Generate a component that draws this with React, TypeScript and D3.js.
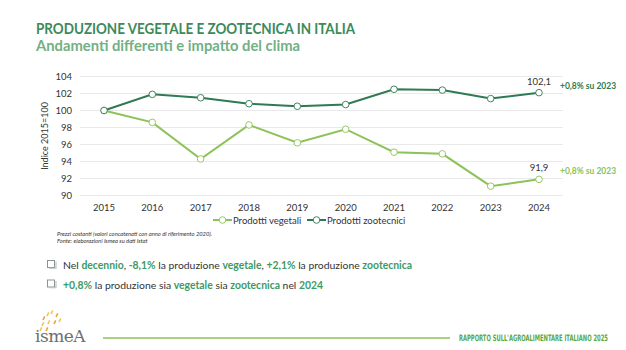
import { useEffect, useRef } from 'react';
import * as d3 from 'd3';

const years = ['2015', '2016', '2017', '2018', '2019', '2020', '2021', '2022', '2023', '2024'];
const vegetali = [100, 98.6, 94.3, 98.3, 96.2, 97.8, 95.1, 94.9, 91.1, 91.9];
const zootecnici = [100, 101.9, 101.5, 100.8, 100.5, 100.7, 102.5, 102.4, 101.4, 102.1];
const yTicks = [90, 92, 94, 96, 98, 100, 102, 104];

const DARK = '#2f7a52';
const LIGHT = '#8cc257';
const FONT = 'Lato, "Open Sans", sans-serif';

const App = () => {
    const svgRef = useRef<SVGSVGElement>(null);

    useEffect(() => {
        const svg = d3.select(svgRef.current);
        svg.selectAll('*').remove();

        const x = d3.scalePoint().domain(years).range([104, 539]);
        const y = d3.scaleLinear().domain([90, 104]).range([195.5, 76.5]);

        svg.append('rect').attr('width', 626).attr('height', 350).attr('fill', '#fff');

        // titles
        svg.append('text').attr('x', 36).attr('y', 34)
            .attr('font-family', FONT).attr('font-weight', 700).attr('font-size', 15)
            .attr('fill', '#3b8a5c').attr('textLength', 319).attr('lengthAdjust', 'spacingAndGlyphs')
            .text('PRODUZIONE VEGETALE E ZOOTECNICA IN ITALIA');
        svg.append('text').attr('x', 36).attr('y', 51)
            .attr('font-family', FONT).attr('font-weight', 700).attr('font-size', 15)
            .attr('fill', '#72b083').attr('textLength', 264).attr('lengthAdjust', 'spacingAndGlyphs')
            .text('Andamenti differenti e impatto del clima');

        // grid
        svg.append('g').selectAll('line').data(yTicks).enter().append('line')
            .attr('x1', 80).attr('x2', 563)
            .attr('y1', d => y(d)).attr('y2', d => y(d))
            .attr('stroke', '#e3e3e3').attr('stroke-width', 0.8);

        svg.append('g').selectAll('text').data(yTicks).enter().append('text')
            .attr('x', 72).attr('y', d => y(d) + 3.5).attr('text-anchor', 'end')
            .attr('font-family', FONT).attr('font-size', 9.5).attr('fill', '#333')
            .text(d => d);

        svg.append('g').selectAll('text').data(years).enter().append('text')
            .attr('x', d => x(d)!).attr('y', 211).attr('text-anchor', 'middle')
            .attr('font-family', FONT).attr('font-size', 9.5).attr('fill', '#333')
            .text(d => d);

        svg.append('text').attr('transform', 'translate(48,136) rotate(-90)')
            .attr('text-anchor', 'middle').attr('font-family', FONT).attr('font-size', 9)
            .attr('fill', '#333').text('Indice 2015=100');

        const line = d3.line<number>().x((d, i) => x(years[i])!).y(d => y(d));

        const series = [
            { values: vegetali, color: LIGHT },
            { values: zootecnici, color: DARK },
        ];
        series.forEach(s => {
            svg.append('path').datum(s.values).attr('d', line)
                .attr('fill', 'none').attr('stroke', s.color).attr('stroke-width', 2);
            svg.append('g').selectAll('circle').data(s.values).enter().append('circle')
                .attr('cx', (d, i) => x(years[i])!).attr('cy', d => y(d)).attr('r', 3.3)
                .attr('fill', '#fff').attr('stroke', s.color).attr('stroke-width', 0.9);
        });

        // end labels
        const last = years.length - 1;
        svg.append('text').attr('x', x(years[last])!).attr('y', y(zootecnici[last]) - 8)
            .attr('text-anchor', 'middle').attr('font-family', FONT).attr('font-size', 9.5)
            .attr('fill', '#333').text('102,1');
        svg.append('text').attr('x', x(years[last])!).attr('y', y(vegetali[last]) - 8)
            .attr('text-anchor', 'middle').attr('font-family', FONT).attr('font-size', 9.5)
            .attr('fill', '#333').text('91,9');
        svg.append('text').attr('x', 560).attr('y', 89)
            .attr('font-family', FONT).attr('font-weight', 700).attr('font-size', 8.5)
            .attr('fill', DARK).text('+0,8% su 2023');
        svg.append('text').attr('x', 560).attr('y', 174)
            .attr('font-family', FONT).attr('font-weight', 700).attr('font-size', 8.5)
            .attr('fill', LIGHT).text('+0,8% su 2023');

        // legend
        const legend = [
            { label: 'Prodotti vegetali', color: LIGHT, x: 213 },
            { label: 'Prodotti zootecnici', color: DARK, x: 307 },
        ];
        legend.forEach(l => {
            svg.append('line').attr('x1', l.x).attr('x2', l.x + 19).attr('y1', 220).attr('y2', 220)
                .attr('stroke', l.color).attr('stroke-width', 2);
            svg.append('circle').attr('cx', l.x + 9.5).attr('cy', 220).attr('r', 3.3)
                .attr('fill', '#fff').attr('stroke', l.color).attr('stroke-width', 0.9);
            svg.append('text').attr('x', l.x + 20).attr('y', 223.5)
                .attr('font-family', FONT).attr('font-size', 9.5).attr('fill', '#333').text(l.label);
        });

        // notes
        svg.append('text').attr('x', 57).attr('y', 236)
            .attr('font-family', FONT).attr('font-style', 'italic').attr('font-size', 5.8)
            .attr('fill', '#333').text('Prezzi costanti (valori concatenati con anno di riferimento 2020).');
        svg.append('text').attr('x', 57).attr('y', 243)
            .attr('font-family', FONT).attr('font-style', 'italic').attr('font-size', 5.8)
            .attr('fill', '#333').text('Fonte: elaborazioni Ismea su dati Istat');

        // bullets
        const G = '#3d9a62';
        const bullets = [
            [['Nel ', '#333'], ['decennio', G], [', ', '#333'], ['-8,1%', G], [' la produzione ', '#333'], ['vegetale', G], [', ', '#333'], ['+2,1%', G], [' la produzione ', '#333'], ['zootecnica', G]],
            [['+0,8%', G], [' la produzione sia ', '#333'], ['vegetale', G], [' sia ', '#333'], ['zootecnica', G], [' nel ', '#333'], ['2024', G]],
        ];
        bullets.forEach((parts, i) => {
            const by = 269 + i * 19.5;
            svg.append('rect').attr('x', 47.5).attr('y', by - 8.5).attr('width', 7).attr('height', 7)
                .attr('fill', '#fff').attr('stroke', '#7f8c84').attr('stroke-width', 0.9);
            svg.append('path').attr('d', `M49,${by - 0.8}H56V${by - 7.5}`)
                .attr('fill', 'none').attr('stroke', '#b8c2bc').attr('stroke-width', 1.1);
            const t = svg.append('text').attr('x', 63).attr('y', by)
                .attr('font-family', FONT).attr('font-size', 10.4);
            parts.forEach(p => t.append('tspan').attr('fill', p[1]).attr('font-weight', p[1] === G ? 700 : 400).text(p[0]));
        });

        // logo
        const dashes = [[44, 316], [48, 312], [52, 310], [57, 313], [43, 322], [49, 320], [55, 320], [60, 318], [41, 327], [47, 327]];
        svg.append('g').selectAll('rect').data(dashes).enter().append('rect')
            .attr('x', d => d[0]).attr('y', d => d[1]).attr('width', 1.6).attr('height', 4)
            .attr('transform', d => `rotate(25,${d[0]},${d[1]})`)
            .attr('fill', (d, i) => (i % 3 === 0 ? '#e9a23b' : '#f2c64c'));
        svg.append('text').attr('x', 35).attr('y', 342)
            .attr('font-family', '"DejaVu Serif", serif').attr('font-size', 17)
            .attr('fill', '#6e6e6e').attr('letter-spacing', -0.5).text('ismeA');

        svg.append('line').attr('x1', 103).attr('x2', 450).attr('y1', 338).attr('y2', 338)
            .attr('stroke', LIGHT).attr('stroke-width', 1.3);
        svg.append('text').attr('transform', 'translate(459,340.5) scale(0.66,1)')
            .attr('font-family', '"Liberation Sans Narrow", "DejaVu Sans Condensed", sans-serif')
            .attr('font-weight', 700).attr('font-size', 8.8).attr('fill', '#5aa845')
            .text("RAPPORTO SULL'AGROALIMENTARE ITALIANO 2025");
    }, []);

    return <svg ref={svgRef} width={626} height={350} style={{ position: 'absolute', left: 0, top: 0 }} />;
};

export default App;
